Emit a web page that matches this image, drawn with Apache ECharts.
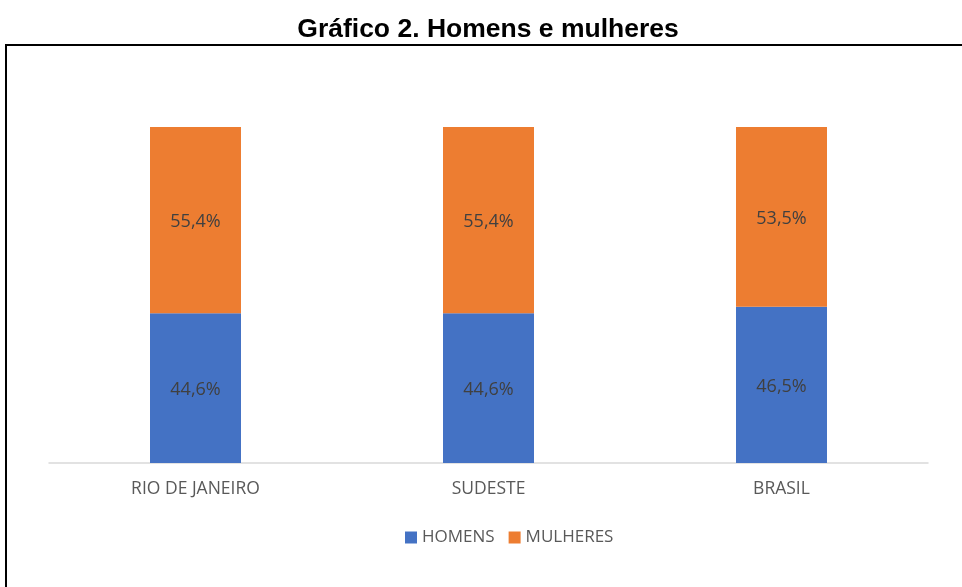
<!DOCTYPE html>
<html>
<head>
<meta charset="utf-8">
<script src="https://cdn.jsdelivr.net/npm/echarts@6/dist/echarts.min.js"></script>
<style>
html,body{margin:0;padding:0;background:#fff;}
#chart{width:962px;height:587px;}
</style>
</head>
<body>
<div id="chart"></div>
<script>
const categories = ['RIO DE JANEIRO', 'SUDESTE', 'BRASIL'];
const homens = [44.6, 44.6, 46.5];
const mulheres = [55.4, 55.4, 53.5];
const seriesNames = ['HOMENS', 'MULHERES'];

const fmt = p => p.value.toFixed(1).replace('.', ',') + '%';
const labelStyle = {
  show: true, position: 'inside', formatter: fmt, offset: [0, 2],
  color: '#404040', fontSize: 18, fontFamily: 'Open Sans'
};

const chart = echarts.init(document.getElementById('chart'));
chart.setOption({
  animation: false,
  title: {
    text: 'Gráfico 2. Homens e mulheres',
    left: 483, top: 11, textAlign: 'center',
    textStyle: { fontFamily: 'Liberation Sans', fontWeight: 'bold', fontSize: 26.5, color: '#000' }
  },
  graphic: [{
    type: 'rect', shape: { x: 6, y: 45, width: 1000, height: 600 },
    style: { fill: 'none', stroke: '#000', lineWidth: 2 }, silent: true
  }],
  legend: {
    data: seriesNames, bottom: 36, left: 400,
    itemWidth: 12, itemHeight: 12, itemGap: 14,
    icon: 'rect',
    textStyle: { color: '#595959', fontSize: 17, fontFamily: 'Open Sans' }
  },
  grid: { left: 49, right: 34, top: 127, bottom: 124 },
  xAxis: {
    type: 'category', data: categories,
    axisLine: { lineStyle: { color: '#D9D9D9', width: 1.5 } },
    axisTick: { show: false },
    axisLabel: { color: '#595959', fontSize: 17.5, fontFamily: 'Open Sans', margin: 17 }
  },
  yAxis: { type: 'value', min: 0, max: 100, show: false, splitLine: { show: false } },
  series: [
    { name: seriesNames[0], type: 'bar', stack: 't', data: homens, barWidth: 91,
      itemStyle: { color: '#4472C4' }, label: labelStyle },
    { name: seriesNames[1], type: 'bar', stack: 't', data: mulheres, barWidth: 91,
      itemStyle: { color: '#ED7D31' }, label: labelStyle }
  ]
});
</script>
</body>
</html>
